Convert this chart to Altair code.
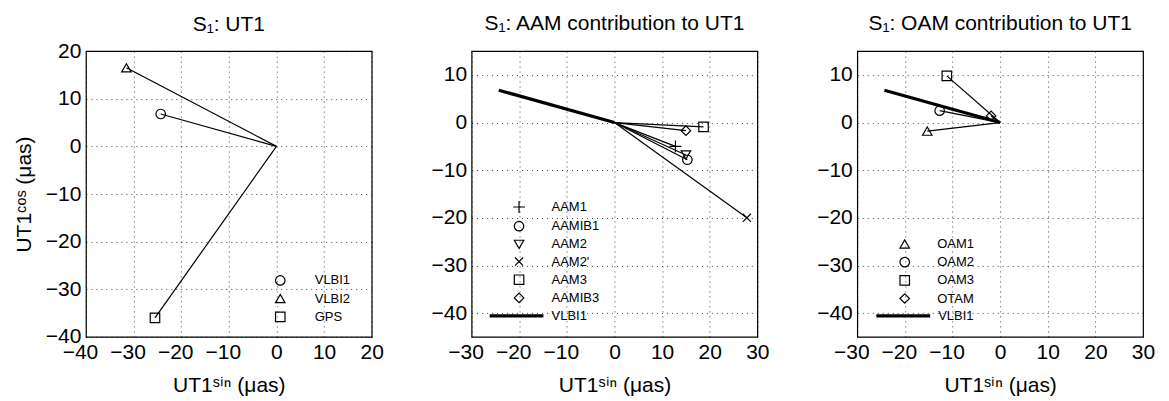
import altair as alt
import pandas as pd

# ---------------- data ----------------
PLUS = "M-1.25,0L1.25,0M0,-1.25L0,1.25"
XMARK = "M-0.85,-0.85L0.85,0.85M0.85,-0.85L-0.85,0.85"

ut1_series = ["VLBI1", "VLBI2", "GPS"]
ut1_sin = [-24.3, -31.5, -25.5]
ut1_cos = [6.8, 16.5, -36.0]
ut1_shapes = ["circle", "triangle-up", "square"]

aam_series = ["AAM1", "AAMIB1", "AAM2", "AAM2'", "AAM3", "AAMIB3"]
aam_sin = [12.8, 15.3, 15.0, 27.8, 18.7, 15.0]
aam_cos = [-5.0, -7.8, -6.8, -20.0, -0.9, -1.7]
aam_shapes = [PLUS, "circle", "triangle-down", XMARK, "square", "diamond"]

oam_series = ["OAM1", "OAM2", "OAM3", "OTAM"]
oam_sin = [-15.3, -12.7, -11.2, -1.9]
oam_cos = [-1.8, 2.5, 9.8, 1.4]
oam_shapes = ["triangle-up", "circle", "square", "diamond"]

vlbi_label = ["VLBI1"]
vlbi_sin = [-24.3]
vlbi_cos = [6.8]

ut1_xticks = [-40, -30, -20, -10, 0, 10, 20]
ut1_yticks = [-40, -30, -20, -10, 0, 10, 20]
con_xticks = [-30, -20, -10, 0, 10, 20, 30]
con_yticks = [-40, -30, -20, -10, 0, 10]

FONT = "Liberation Sans"
XTITLE = "UT1ˢⁱⁿ (μas)"
YTITLE = "UT1ᶜᵒˢ (μas)"


def panel(title, series, sin, cos, shapes, xdom, ydom, xticks, yticks, ytitle,
          leg_xy, line_leg_xy=None, label_offset=28, title_offset=17):
    df = pd.DataFrame({"series": series, "sin": sin, "cos": cos})
    x = alt.X("sin:Q", scale=alt.Scale(domain=xdom, nice=False, zero=False),
              axis=alt.Axis(values=xticks, title=XTITLE, titlePadding=12,
                            labelOffset=alt.condition("datum.value < 0", alt.value(-6), alt.value(0))))
    yaxis = (alt.Axis(values=yticks, title=ytitle, titlePadding=10.5) if ytitle
             else alt.Axis(values=yticks, title=None))
    y = alt.Y("cos:Q", scale=alt.Scale(domain=ydom, nice=False, zero=False), axis=yaxis)
    base = alt.Chart(df)
    rules = base.mark_rule(color="black", strokeWidth=1.2).encode(
        x=x, y=y, x2=alt.datum(0), y2=alt.datum(0))
    pts = base.mark_point(color="black", filled=False, strokeWidth=1.2, size=90, opacity=1).encode(
        x=x, y=y,
        shape=alt.Shape("series:N", scale=alt.Scale(domain=series, range=shapes),
                        legend=alt.Legend(orient="none", legendX=leg_xy[0], legendY=leg_xy[1],
                                          title=None, symbolSize=90, symbolStrokeWidth=1.2,
                                          symbolStrokeColor="black", symbolFillColor="transparent",
                                          labelFontSize=13, labelFont=FONT, labelColor="black",
                                          labelOffset=label_offset, rowPadding=3.2)))
    layers = [rules]
    if line_leg_xy is not None:
        vdf = pd.DataFrame({"series": vlbi_label, "sin": vlbi_sin, "cos": vlbi_cos})
        vline = alt.Chart(vdf).mark_rule(color="black").encode(
            x=x, y=y, x2=alt.datum(0), y2=alt.datum(0),
            strokeWidth=alt.StrokeWidth("series:O", scale=alt.Scale(domain=vlbi_label, range=[3.2, 3.2]),
                                        legend=alt.Legend(orient="none", legendX=line_leg_xy[0],
                                                          legendY=line_leg_xy[1], title=None,
                                                          symbolType="stroke", symbolSize=2900,
                                                          symbolStrokeColor="black",
                                                          labelFontSize=13, labelFont=FONT,
                                                          labelColor="black", labelOffset=6)))
        layers.append(vline)
    layers.append(pts)
    return alt.layer(*layers).properties(
        width=286, height=286,
        title=alt.TitleParams(title, fontSize=21, font=FONT, fontWeight="normal",
                              color="black", offset=title_offset))


p1 = panel("S₁: UT1", ut1_series, ut1_sin, ut1_cos, ut1_shapes, [-40, 20], [-40, 20],
           ut1_xticks, ut1_yticks, YTITLE, (188, 223), None, 28, 5)
p2 = panel("S₁: AAM contribution to UT1", aam_series, aam_sin, aam_cos, aam_shapes,
           [-30, 30], [-45, 15], con_xticks, con_yticks, None, (41, 149.5), (16, 236), 26, 17)
p3 = panel("S₁: OAM contribution to UT1", oam_series, oam_sin, oam_cos, oam_shapes,
           [-30, 30], [-45, 15], con_xticks, con_yticks, None, (41, 186.5), (17, 236), 26, 17)

chart = alt.hconcat(p1, p2, p3, spacing=100, bounds="flush").resolve_scale(
    shape="independent", strokeWidth="independent"
).resolve_legend(
    shape="independent", strokeWidth="independent"
).configure_view(
    stroke="black", strokeWidth=1.2
).configure_axis(
    grid=True, gridDash=[1, 4], gridColor="#000000", gridOpacity=0.75, gridWidth=1,
    ticks=False, domain=False, labelFont=FONT, labelFontSize=21, labelColor="black",
    labelPadding=5, labelOverlap=False, labelFlush=False,
    titleFont=FONT, titleFontSize=21, titleFontWeight="normal", titleColor="black"
).properties(
    padding={"left": 5, "top": 4, "right": 5, "bottom": 0},
    background="white"
)

chart.save("out.html", embed_options={"renderer": "svg", "actions": False})
